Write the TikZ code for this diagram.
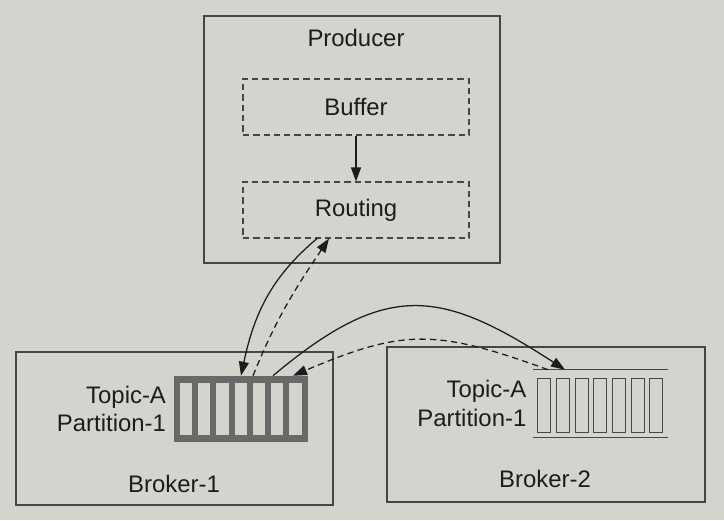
\documentclass[tikz,border=0pt]{standalone}
\usepackage{fontspec}
\setmainfont{Liberation Sans}
\usepackage{tikz}
\usetikzlibrary{positioning,calc,arrows.meta}
\definecolor{paper}{RGB}{212,212,206}
\definecolor{ink}{RGB}{28,28,28}
\definecolor{edge}{RGB}{70,70,70}
\definecolor{slot}{RGB}{105,105,105}

\begin{document}
\begin{tikzpicture}[x=0.025cm, y=0.025cm,
  every node/.style={font=\fontsize{17}{20.5}\selectfont, text=ink},
  box/.style={draw=edge, line width=0.8pt, inner sep=0pt},
  dashbox/.style={draw=edge, line width=0.8pt, dash pattern=on 4.5pt off 2.8pt, inner sep=0pt, minimum width=5.65cm, minimum height=1.4cm},
  link/.style={draw=ink, line width=0.9pt, -{Triangle[length=3.5mm,width=2.5mm]}},
  dashlink/.style={link, dash pattern=on 4.5pt off 3pt}]
\fill[paper] (0,0) rectangle (724,520);

% producer
\node (producer) [box, minimum width=7.4cm, minimum height=6.175cm] at (352,380.5) {};
\node (prodlabel) at (356,482) {Producer};
\node (buffer) [dashbox] at (356,413) {Buffer};
\node (routing) [dashbox] at (356,310) {Routing};

% brokers
\node (broker1) [box, minimum width=7.925cm, minimum height=3.825cm] at (174.5,91.5) {};
\node (broker2) [box, minimum width=7.95cm, minimum height=3.875cm] at (546,95.5) {};
\node (b1label) at (174,36) {Broker-1};
\node (b2label) at (545,41) {Broker-2};

% partition on broker-1
\node (part1) [fill=slot, minimum width=3.35cm, minimum height=1.65cm, inner sep=0pt] at (241,111) {};
\foreach \i in {0,...,6}
  \fill[paper] ($(part1.south west)+(6+\i*18.29,7)$) rectangle +(12.29,52);
\node (topic1) [left=2pt of part1, align=right] {Topic-A\\Partition-1};

% partition on broker-2
\node (part2) [minimum width=3.375cm, minimum height=1.675cm, inner sep=0pt] at (600.5,116.5) {};
\draw[edge, line width=0.7pt] (part2.north west) -- (part2.north east)
  (part2.south west) -- (part2.south east);
\foreach \i in {0,...,6}
  \draw[edge, line width=0.6pt] ($(part2.south west)+(5+\i*18.67,5)$) rectangle +(13,54);
\node (topic2) [left=1pt of part2, align=right] {Topic-A\\Partition-1};

% arrows
\draw[link] (buffer) -- (routing);
\draw[link] ($(routing.south)+(-39,0)$) to[out=220,in=78] (part1.north);
\draw[dashlink] ($(part1.north)+(12,0)$) to[out=68,in=236] ($(routing.south)+(-27,0)$);
\draw[link] ($(part1.north)+(32,0)$) to[out=40,in=147,looseness=1.3] ($(part2.north)+(-35.5,0)$);
\draw[dashlink] ($(part2.north)+(-52.5,0)$) to[out=160,in=23,looseness=1.2] ($(part1.north)+(52,0)$);
\end{tikzpicture}
\end{document}
